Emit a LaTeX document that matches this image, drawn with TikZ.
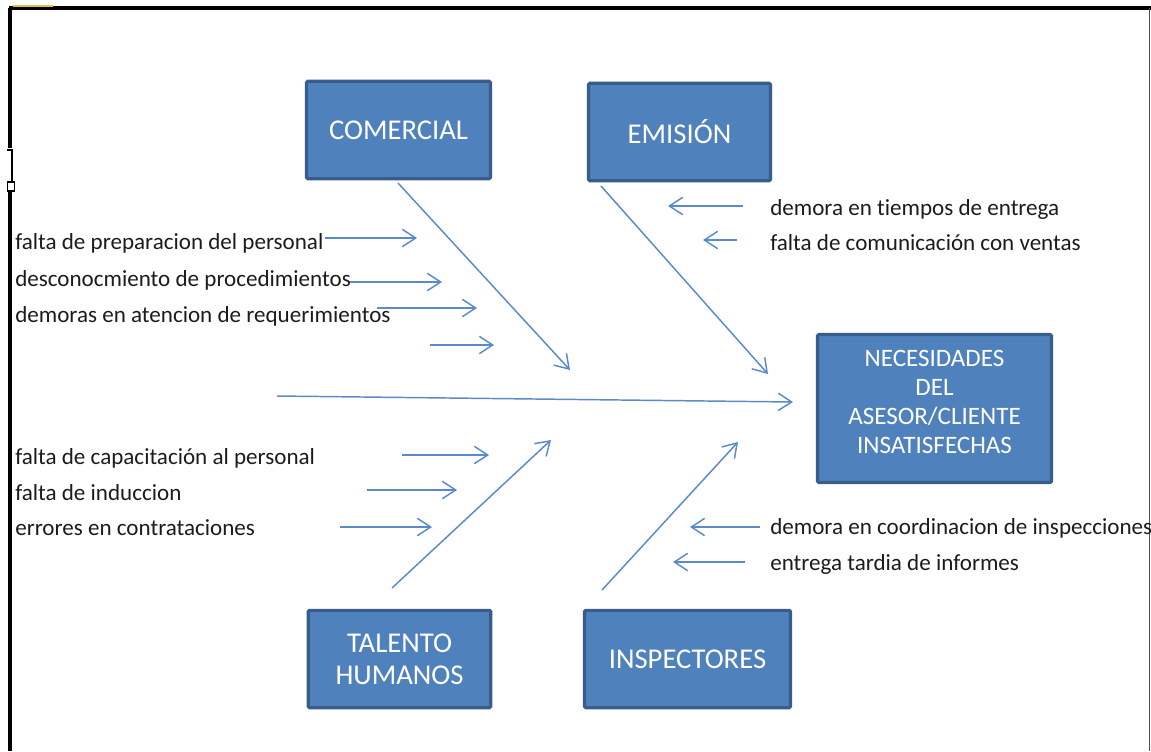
\documentclass[tikz,border=0pt]{standalone}
\usepackage{fontspec}
\setmainfont{Carlito}[Ligatures=NoCommon]
\usetikzlibrary{arrows.meta}
\definecolor{boxfill}{HTML}{4F81BD}
\definecolor{boxline}{HTML}{385D8A}
\definecolor{arr}{HTML}{5A8ACB}
\definecolor{txt}{HTML}{1C1C1C}
\definecolor{tab}{HTML}{E8C33A}
\tikzset{
 catbox/.style={draw=boxline, line width=2.4pt, fill=boxfill, text=white, rounded corners=1pt, inner sep=0pt, align=center, font=\fontsize{21.5}{24}\selectfont},
 boxtext/.style={text=white, inner sep=0pt, align=center},
 cause/.style={anchor=west, inner sep=0pt, text=txt, font=\fontsize{17.3}{20}\selectfont},
 bone/.style={draw=arr, line width=1.1pt, -{Straight Barb[length=10pt,width=13pt,line width=1.1pt]}},
 frame/.style={draw=black, line width=2.6pt},
}
\begin{document}
\begin{tikzpicture}[x=0.75pt,y=-0.75pt]
\useasboundingbox (0,0) rectangle (1151,751);
% frame
\draw[frame] (8.5,8) -- (1151,8);
\draw[frame] (10,8) -- (10,148);
\draw[frame] (10,192) -- (10,751);
\draw[black, line width=0.8pt] (7,150) -- (12,150) -- (12,182);
\draw[black, line width=0.8pt] (7.5,182) rectangle (14.5,191);
\draw[draw=black!70, line width=1.1pt] (1149.5,8) -- (1149.5,751);
\draw[tab, line width=1.5pt] (13,5.5) -- (53,5.5);

% category boxes
\node[catbox, minimum width=138pt, minimum height=73pt] (com) at (398.5,130) {COMERCIAL};
\node[catbox, minimum width=136.5pt, minimum height=73pt] (emi) at (679.5,132) {EMISIÓN};
\node[catbox, minimum width=175.5pt, minimum height=111pt] (nec) at (934.5,408.5) {};
\node[boxtext, font=\fontsize{18.8}{21.6}\selectfont] (nectxt) at (934.5,402) {NECESIDADES\\DEL\\ASESOR/CLIENTE\\INSATISFECHAS};
\node[catbox, minimum width=137pt, minimum height=73pt] (tal) at (399.5,659) {TALENTO\\HUMANOS};
\node[catbox, minimum width=154.5pt, minimum height=73pt] (ins) at (687.5,659) {INSPECTORES};

% causes
\node[cause] (c1) at (15,243) {falta de preparacion del personal};
\node[cause] (c2) at (15,280) {desconocmiento de procedimientos};
\node[cause] (c3) at (15,316) {demoras en atencion de requerimientos};
\node[cause] (e1) at (770,209) {demora en tiempos de entrega};
\node[cause] (e2) at (770,243) {falta de comunicación con ventas};
\node[cause] (t1) at (15,458) {falta de capacitación al personal};
\node[cause] (t2) at (15,493) {falta de induccion};
\node[cause] (t3) at (15,528) {errores en contrataciones};
\node[cause] (i1) at (770,528) {demora en coordinacion de inspecciones};
\node[cause] (i2) at (770,564) {entrega tardia de informes};

% coordinates
\coordinate (spS) at (277,396);
\coordinate (spE) at (793,402);
\coordinate (comS) at (398,183);
\coordinate (comE) at (570,370);
\coordinate (emiS) at (601,186);
\coordinate (emiE) at (768,374);
\coordinate (talS) at (392,588);
\coordinate (talE) at (551,440);
\coordinate (insS) at (602,590);
\coordinate (insE) at (738,442);

\coordinate (a1s) at (325,238); \coordinate (a1e) at (417,238);
\coordinate (a2s) at (350,282); \coordinate (a2e) at (442,282);
\coordinate (a3s) at (377,308); \coordinate (a3e) at (477,308);
\coordinate (a4s) at (430,345); \coordinate (a4e) at (494,345);
\coordinate (b1s) at (743,206); \coordinate (b1e) at (668,206);
\coordinate (b2s) at (737,240); \coordinate (b2e) at (703,240);
\coordinate (d1s) at (402,455); \coordinate (d1e) at (489,455);
\coordinate (d2s) at (367,490); \coordinate (d2e) at (457,490);
\coordinate (d3s) at (340,527); \coordinate (d3e) at (432,527);
\coordinate (f1s) at (760,527); \coordinate (f1e) at (690,527);
\coordinate (f2s) at (745,562); \coordinate (f2e) at (673,562);

% bones
\draw[bone] (spS) -- (spE);
\draw[bone] (comS) -- (comE);
\draw[bone] (emiS) -- (emiE);
\draw[bone] (talS) -- (talE);
\draw[bone] (insS) -- (insE);

\draw[bone] (a1s) -- (a1e);
\draw[bone] (a2s) -- (a2e);
\draw[bone] (a3s) -- (a3e);
\draw[bone] (a4s) -- (a4e);
\draw[bone] (b1s) -- (b1e);
\draw[bone] (b2s) -- (b2e);
\draw[bone] (d1s) -- (d1e);
\draw[bone] (d2s) -- (d2e);
\draw[bone] (d3s) -- (d3e);
\draw[bone] (f1s) -- (f1e);
\draw[bone] (f2s) -- (f2e);
\end{tikzpicture}
\end{document}
